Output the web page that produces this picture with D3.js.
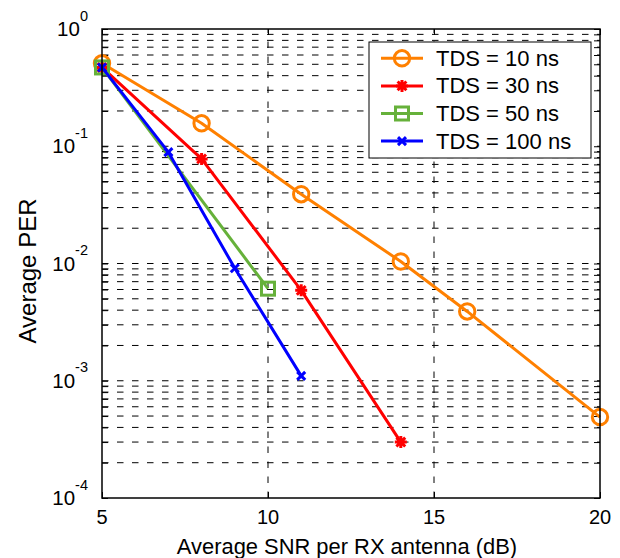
<!DOCTYPE html>
<html>
<head>
<meta charset="utf-8">
<script src="https://cdn.jsdelivr.net/npm/d3@7/dist/d3.min.js"></script>
<style>
  html, body { margin: 0; padding: 0; background: #fff; }
  svg { display: block; font-family: "Liberation Sans", Arial, sans-serif; }
</style>
</head>
<body>
<svg id="chart" width="620" height="558"></svg>
<script>
// SNR points (dB) and average PER for each delay spread
const snr10 = [5, 8, 11, 14, 16, 20];
const per10 = [0.51, 0.157, 0.039, 0.0104, 0.0039, 0.00049];
const snr30 = [5, 8, 11, 14];
const per30 = [0.47, 0.078, 0.0059, 0.0003];
const snr50 = [5, 10];
const per50 = [0.47, 0.0061];
const snr100 = [5, 7, 9, 11];
const per100 = [0.47, 0.089, 0.0091, 0.0011];

const seriesNames = ["TDS = 10 ns", "TDS = 30 ns", "TDS = 50 ns", "TDS = 100 ns"];
const xTicks = [5, 10, 15, 20];
const yDecades = [1e-4, 1e-3, 1e-2, 1e-1, 1];
const yTickExp = ["-4", "-3", "-2", "-1", "0"];

const series = [
  { name: seriesNames[0], x: snr10, y: per10, color: "#ff8000", marker: "circle" },
  { name: seriesNames[1], x: snr30, y: per30, color: "#ff0000", marker: "star" },
  { name: seriesNames[2], x: snr50, y: per50, color: "#66b13a", marker: "square" },
  { name: seriesNames[3], x: snr100, y: per100, color: "#0000ff", marker: "cross" }
];

const svg = d3.select("#chart");
const L = 102, R = 600, T = 29, B = 498;
const LW = 3;

const x = d3.scaleLinear().domain([5, 20]).range([L, R]);
const y = d3.scaleLog().domain([1e-4, 1]).range([B, T]);

// minor decade positions 2..9 × 10^k
const minorY = [];
for (let k = -4; k < 0; k++) {
  for (let m = 2; m <= 9; m++) minorY.push(m * Math.pow(10, k));
}
const allY = yDecades.concat(minorY);

// dashed grid
const grid = svg.append("g").attr("stroke", "#000").attr("stroke-width", 1)
  .attr("stroke-dasharray", "6.5,8.5").attr("fill", "none");
grid.selectAll("line.h").data(allY.filter(v => v > 1e-4 && v < 1)).enter().append("line")
  .attr("class", "h")
  .attr("x1", L).attr("x2", R)
  .attr("y1", d => y(d)).attr("y2", d => y(d));
grid.selectAll("line.v").data(xTicks.filter(v => v > 5 && v < 20)).enter().append("line")
  .attr("class", "v")
  .attr("x1", d => x(d)).attr("x2", d => x(d))
  .attr("y1", B).attr("y2", T);

// inward ticks on all four sides
const tickLen = 6;
function styleAxis(g) {
  g.select(".domain").remove();
  g.selectAll(".tick line").attr("stroke", "#000").attr("stroke-width", 1);
  g.selectAll(".tick text").remove();
}
svg.append("g").attr("transform", `translate(0,${B})`)
  .call(d3.axisBottom(x).tickValues(xTicks).tickSize(-tickLen)).call(styleAxis);
svg.append("g").attr("transform", `translate(0,${T})`)
  .call(d3.axisTop(x).tickValues(xTicks).tickSize(-tickLen)).call(styleAxis);
svg.append("g").attr("transform", `translate(${L},0)`)
  .call(d3.axisLeft(y).tickValues(allY).tickSize(-tickLen)).call(styleAxis);
svg.append("g").attr("transform", `translate(${R},0)`)
  .call(d3.axisRight(y).tickValues(allY).tickSize(-tickLen)).call(styleAxis);

// data lines and markers
const line = d3.line().x(d => x(d[0])).y(d => y(d[1]));

function drawMarker(g, type, color, cx, cy) {
  const m = g.append("g").attr("transform", `translate(${cx},${cy})`)
    .attr("stroke", color).attr("fill", "none").attr("stroke-width", LW);
  if (type === "circle") {
    m.append("circle").attr("r", 7.7);
  } else if (type === "square") {
    m.append("rect").attr("x", -6.5).attr("y", -6.5).attr("width", 13).attr("height", 13);
  } else if (type === "cross") {
    const s = 4;
    m.append("path").attr("d", `M${-s},${-s}L${s},${s}M${-s},${s}L${s},${-s}`);
  } else if (type === "star") {
    const s = 6, d = 4.4;
    m.append("path").attr("d",
      `M0,${-s}L0,${s}M${-s},0L${s},0M${-d},${-d}L${d},${d}M${-d},${d}L${d},${-d}`);
  }
}

series.forEach(s => {
  const pts = s.x.map((v, i) => [v, s.y[i]]);
  svg.append("path").datum(pts).attr("d", line)
    .attr("fill", "none").attr("stroke", s.color).attr("stroke-width", LW)
    .attr("stroke-linejoin", "round");
  const g = svg.append("g");
  pts.forEach(p => drawMarker(g, s.marker, s.color, x(p[0]), y(p[1])));
});

// axes box
svg.append("rect").attr("x", L).attr("y", T).attr("width", R - L).attr("height", B - T)
  .attr("fill", "none").attr("stroke", "#000").attr("stroke-width", 1.5);

// tick labels
svg.append("g").selectAll("text").data(xTicks).enter().append("text")
  .attr("x", d => x(d)).attr("y", 524)
  .attr("text-anchor", "middle").attr("font-size", 20).attr("fill", "#000")
  .text(d => d);

const yl = svg.append("g").selectAll("text").data(yDecades).enter().append("text")
  .attr("x", 88).attr("y", d => y(d) + 7)
  .attr("text-anchor", "end").attr("font-size", 20.5).attr("fill", "#000");
yl.append("tspan").text("10");
yl.append("tspan").attr("dy", -15.5).attr("font-size", 14.5).text((d, i) => yTickExp[i]);

// axis titles
svg.append("text").attr("x", 347).attr("y", 554).attr("text-anchor", "middle")
  .attr("font-size", 21.9).attr("fill", "#000").text("Average SNR per RX antenna (dB)");
svg.append("text").attr("transform", "translate(36,271) rotate(-90)")
  .attr("text-anchor", "middle").attr("font-size", 24).attr("fill", "#000").text("Average PER");

// legend
const lg = svg.append("g");
lg.append("rect").attr("x", 369).attr("y", 42).attr("width", 222).attr("height", 116)
  .attr("fill", "#fff").attr("stroke", "#000").attr("stroke-width", 1);
series.forEach((s, i) => {
  const cy = 58.3 + i * 27.6;
  lg.append("line").attr("x1", 381).attr("x2", 423).attr("y1", cy).attr("y2", cy)
    .attr("stroke", s.color).attr("stroke-width", LW);
  drawMarker(lg, s.marker, s.color, 402, cy);
  lg.append("text").attr("x", 436).attr("y", cy + 7.5).attr("font-size", 22)
    .attr("fill", "#000").text(s.name);
});
</script>
</body>
</html>
